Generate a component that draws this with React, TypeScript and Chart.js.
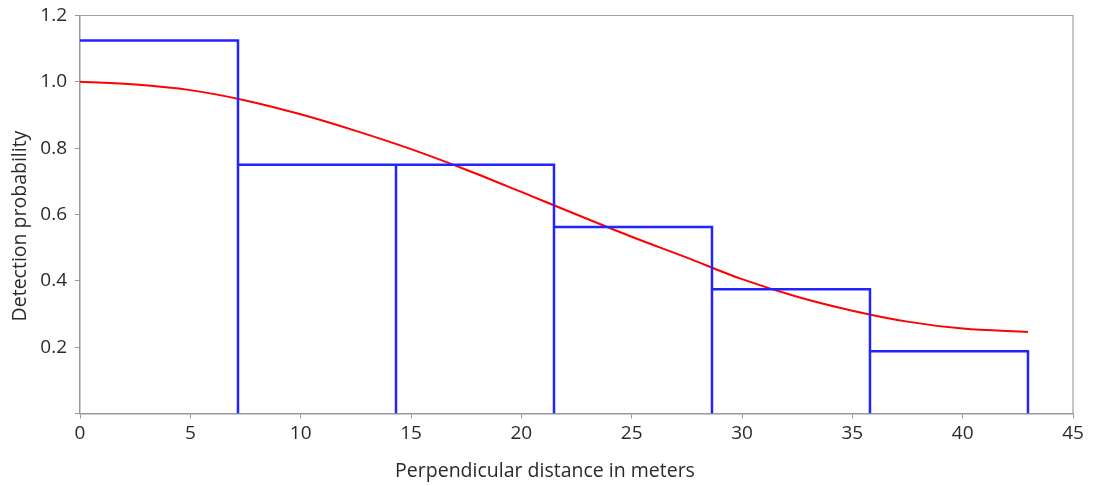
import React, { useEffect, useRef } from "react";
import { Chart, registerables } from "chart.js";

Chart.register(...registerables);

// Histogram bins (distance edges in meters) and bar heights
const binEdges = [0, 7.16, 14.32, 21.48, 28.64, 35.8, 42.96];
const binHeights = [1.125, 0.75, 0.75, 0.5625, 0.375, 0.1875];

// Fitted detection function
const curveX = [0, 2.5, 5, 7.5, 10, 12.5, 15, 17.5, 20, 22.5, 25, 27.5, 30, 32.5, 35, 37.5, 40, 42.96];
const curveY = [1.0, 0.992, 0.975, 0.944, 0.902, 0.852, 0.797, 0.735, 0.668, 0.6, 0.533, 0.47, 0.405, 0.352, 0.31, 0.277, 0.256, 0.246];

const xTicks = [0, 5, 10, 15, 20, 25, 30, 35, 40, 45];
const yTicks = [0, 0.2, 0.4, 0.6, 0.8, 1.0, 1.2];

const xTitle = "Perpendicular distance in meters";
const yTitle = "Detection probability";

const FONT = "'Open Sans', 'Noto Sans', sans-serif";
const TEXT = "#2a2a2a";

export default function App() {
  const ref = useRef<HTMLCanvasElement | null>(null);

  useEffect(() => {
    document.body.style.margin = "0";
    const canvas = ref.current;
    if (!canvas) return;

    const histPts: { x: number; y: number }[] = [];
    for (let i = 0; i < binHeights.length; i++) {
      histPts.push({ x: binEdges[i], y: binHeights[i] });
      histPts.push({ x: binEdges[i + 1], y: binHeights[i] });
      histPts.push({ x: binEdges[i + 1], y: 0 });
    }
    const curvePts = curveX.map((x, i) => ({ x, y: curveY[i] }));

    const framePlugin = {
      id: "frame",
      afterDraw(chart: any) {
        const { ctx, chartArea } = chart;
        ctx.save();
        ctx.strokeStyle = "#a0a0a0";
        ctx.lineWidth = 1.2;
        ctx.beginPath();
        ctx.moveTo(chartArea.left, chartArea.top);
        ctx.lineTo(chartArea.right, chartArea.top);
        ctx.lineTo(chartArea.right, chartArea.bottom);
        ctx.stroke();
        ctx.fillStyle = TEXT;
        ctx.font = `19.5px ${FONT}`;
        ctx.textAlign = "center";
        ctx.textBaseline = "middle";
        ctx.fillText(xTitle, 545, 471);
        ctx.translate(20, 226);
        ctx.rotate(-Math.PI / 2);
        ctx.fillText(yTitle, 0, 0);
        ctx.restore();
      },
    };

    const chart = new Chart(canvas, {
      type: "line",
      data: {
        datasets: [
          {
            data: histPts,
            borderColor: "#2323ff",
            borderWidth: 2.5,
            pointRadius: 0,
            tension: 0,
            fill: false,
          },
          {
            data: curvePts,
            borderColor: "#ff0000",
            borderWidth: 2,
            pointRadius: 0,
            cubicInterpolationMode: "monotone",
            fill: false,
          },
        ],
      },
      options: {
        animation: false,
        responsive: false,
        maintainAspectRatio: false,
        layout: { padding: { top: 15.5, right: 20, left: 0, bottom: 0 } },
        plugins: { legend: { display: false }, tooltip: { enabled: false } },
        scales: {
          x: {
            type: "linear",
            min: 0,
            max: 45,
            afterBuildTicks: (s: any) => {
              s.ticks = xTicks.map((v) => ({ value: v }));
            },
            afterFit: (s: any) => {
              s.height = 72.5;
              s.paddingLeft = 0;
              s.paddingRight = 0;
            },
            ticks: {
              color: TEXT,
              font: { family: FONT, size: 19 },
              padding: 4,
              callback: (v: any) => String(v),
            },
            grid: {
              drawOnChartArea: false,
              color: "#999",
              tickLength: 5,
            },
            border: { color: "#999", width: 1.5 },
          },
          y: {
            type: "linear",
            min: 0,
            max: 1.2,
            afterBuildTicks: (s: any) => {
              s.ticks = yTicks.map((v) => ({ value: v }));
            },
            afterFit: (s: any) => {
              s.width = 80;
              s.paddingTop = 0;
              s.paddingBottom = 0;
            },
            ticks: {
              color: TEXT,
              font: { family: FONT, size: 19 },
              padding: 8,
              callback: (v: any) => (v === 0 ? "" : Number(v).toFixed(1)),
            },
            grid: {
              drawOnChartArea: false,
              color: "#999",
              tickLength: 5,
            },
            border: { color: "#999", width: 1.5 },
          },
        },
      },
      plugins: [framePlugin],
    });

    return () => chart.destroy();
  }, []);

  return (
    <div style={{ position: "relative", width: 1093, height: 486 }}>
      <canvas ref={ref} width={1093} height={486} style={{ width: 1093, height: 486 }} />
    </div>
  );
}
